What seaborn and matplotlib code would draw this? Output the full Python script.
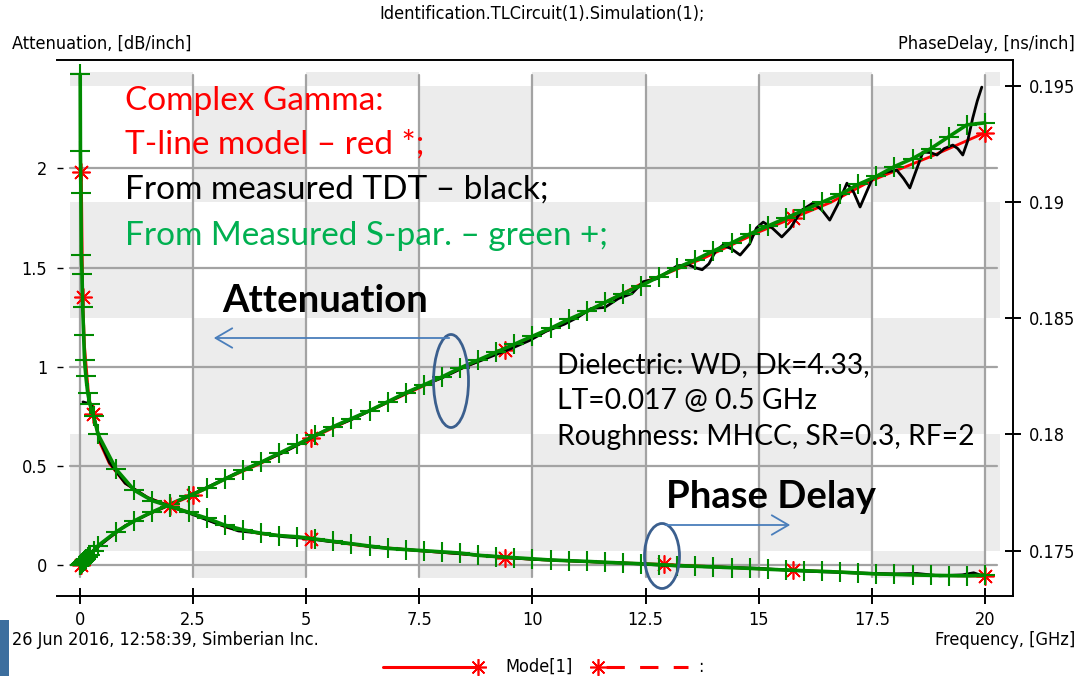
import numpy as np
import pandas as pd
import matplotlib
matplotlib.use("Agg")
import matplotlib.pyplot as plt
import seaborn as sns
from matplotlib.patches import Rectangle, Ellipse, FancyArrowPatch
from matplotlib.lines import Line2D
from matplotlib.transforms import blended_transform_factory

# ---------------- data ----------------
# T-line model (red *)
f_model = [0.03, 0.06, 0.1, 0.2, 0.29, 0.45, 0.65, 1.0, 1.5, 2.0, 2.5, 3.25, 4.0, 5.1,
           6.2, 7.5, 8.4, 9.4, 10.2, 11.3, 12.5, 12.9, 13.8, 15.0, 15.75, 16.6, 17.5,
           18.8, 20.0]
att_model = [0.004, 0.012, 0.022, 0.05, 0.075, 0.105, 0.14, 0.2, 0.258, 0.305, 0.355,
             0.44, 0.515, 0.64, 0.758, 0.895, 0.99, 1.088, 1.17, 1.29, 1.43, 1.465,
             1.55, 1.68, 1.75, 1.83, 1.94, 2.06, 2.18]
pd_model = [0.1913, 0.1859, 0.1838, 0.1815, 0.1809, 0.1796, 0.17875, 0.1779, 0.17728,
            0.17692, 0.17659, 0.1760, 0.17573, 0.17552, 0.17522, 0.17500, 0.17487,
            0.17470, 0.17461, 0.17452, 0.17444, 0.17441, 0.17433, 0.17422, 0.17416,
            0.17410, 0.17401, 0.17394, 0.17390]
att_star_idx = [0, 10, 13, 17, 24, 28]
pd_star_idx = [0, 1, 4, 9, 13, 17, 21, 24, 28]

# From measured S-parameters (green +)
f_spar = [0.005, 0.01, 0.02, 0.03, 0.045, 0.06, 0.08, 0.1, 0.13, 0.17, 0.22, 0.3,
          0.4, 0.8, 1.2, 1.6, 2.0, 2.4, 2.8, 3.2, 3.6, 4.0, 4.4, 4.8, 5.2, 5.6, 6.0,
          6.4, 6.8, 7.2, 7.6, 8.0, 8.4, 8.8, 9.2, 9.6, 10.0, 10.4, 10.8, 11.2, 11.6,
          12.0, 12.4, 12.8, 13.2, 13.6, 14.0, 14.4, 14.8, 15.2, 15.6, 16.0, 16.4,
          16.8, 17.2, 17.6, 18.0, 18.4, 18.8, 19.2, 19.6, 20.0]
att_spar = [0.0, 0.003, 0.006, 0.009, 0.013, 0.017, 0.022, 0.027, 0.034, 0.043, 0.055,
            0.075, 0.10, 0.17, 0.225, 0.27, 0.31, 0.35, 0.39, 0.435, 0.48, 0.52, 0.565,
            0.61, 0.655, 0.70, 0.74, 0.78, 0.825, 0.87, 0.91, 0.95, 0.995, 1.035,
            1.075, 1.115, 1.155, 1.195, 1.24, 1.28, 1.325, 1.37, 1.41, 1.455, 1.50,
            1.54, 1.585, 1.625, 1.67, 1.71, 1.75, 1.79, 1.83, 1.87, 1.92, 1.96, 2.01,
            2.05, 2.10, 2.16, 2.22, 2.23]
pd_spar = [0.1955, 0.1922, 0.1904, 0.1877, 0.1869, 0.1855, 0.1843, 0.1832, 0.1825,
           0.1818, 0.1813, 0.1808, 0.1800, 0.1785, 0.1776, 0.17715, 0.1769, 0.17665,
           0.1764, 0.1761, 0.1759, 0.17575, 0.17565, 0.1756, 0.1755, 0.1754, 0.1753,
           0.1752, 0.1751, 0.17505, 0.1750, 0.17495, 0.1749, 0.1748, 0.17475, 0.1747,
           0.17465, 0.1746, 0.17457, 0.17454, 0.1745, 0.17447, 0.17444, 0.1744,
           0.17436, 0.17433, 0.1743, 0.17427, 0.17424, 0.1742, 0.17417, 0.17414,
           0.17411, 0.17408, 0.17404, 0.1740, 0.17398, 0.17396, 0.17394, 0.17393,
           0.17392, 0.17395]

# From measured TDT (black)
f_tdt_att = [0.0, 0.3, 0.65, 1.0, 1.5, 2.0, 2.5, 3.0, 3.5, 4.0, 4.5, 5.0, 5.5, 6.0,
             6.5, 7.0, 7.5, 8.0, 8.5, 9.0, 9.5, 9.95, 10.3, 10.7, 11.0, 11.3, 11.6,
             11.9, 12.2, 12.45, 12.75, 13.0, 13.2, 13.45, 13.6, 13.75, 13.9, 14.05,
             14.21, 14.4, 14.59, 14.8, 14.95, 15.1, 15.3, 15.51, 15.7, 15.95, 16.2,
             16.4, 16.57, 16.75, 16.95, 17.1, 17.24, 17.38, 17.52, 17.8, 18.05, 18.2,
             18.34, 18.48, 18.63, 18.8, 18.94, 19.1, 19.29, 19.4, 19.51, 19.62, 19.73,
             19.83, 19.93]
att_tdt = [0.0, 0.075, 0.14, 0.2, 0.258, 0.308, 0.36, 0.415, 0.47, 0.52, 0.57, 0.63,
           0.69, 0.735, 0.79, 0.845, 0.9, 0.945, 1.0, 1.045, 1.09, 1.135, 1.18, 1.215,
           1.25, 1.295, 1.30, 1.345, 1.37, 1.43, 1.445, 1.48, 1.51, 1.515, 1.50, 1.49,
           1.52, 1.585, 1.614, 1.595, 1.564, 1.62, 1.70, 1.73, 1.70, 1.655, 1.70, 1.79,
           1.826, 1.79, 1.74, 1.82, 1.926, 1.88, 1.806, 1.88, 1.953, 1.98, 1.992,
           1.95, 1.902, 1.99, 2.083, 2.08, 2.068, 2.10, 2.118, 2.10, 2.068, 2.14,
           2.254, 2.34, 2.41]
f_tdt_pd = [0.066, 0.25, 0.3, 0.45, 0.65, 1.0, 1.5, 2.0, 2.5, 3.0, 3.5, 4.0, 4.5, 5.0,
            5.5, 6.0, 6.5, 7.0, 7.5, 8.0, 8.5, 9.0, 9.5, 10.0, 11.0, 12.0, 13.0, 14.0,
            15.0, 16.0, 17.0, 18.0, 18.5, 19.0, 19.5, 19.75, 19.9]
pd_tdt = [0.1814, 0.1813, 0.1808, 0.1797, 0.1788, 0.1779, 0.17728, 0.1769, 0.17655,
          0.17618, 0.17585, 0.17575, 0.1756, 0.17553, 0.1754, 0.1753, 0.17515, 0.17508,
          0.175, 0.17493, 0.17485, 0.17478, 0.1747, 0.17463, 0.17455, 0.17447, 0.17436,
          0.17430, 0.17424, 0.17412, 0.17405, 0.174, 0.17402, 0.17392, 0.17396,
          0.17405, 0.17395]

x_ticks = [0, 2.5, 5, 7.5, 10, 12.5, 15, 17.5, 20]
x_tick_labels = ["0", "2.5", "5", "7.5", "10", "12.5", "15", "17.5", "20"]
att_ticks = [0, 0.5, 1, 1.5, 2]
att_tick_labels = ["0", "0.5", "1", "1.5", "2"]
pd_ticks = [0.175, 0.18, 0.185, 0.19, 0.195]
pd_tick_labels = ["0.175", "0.18", "0.185", "0.19", "0.195"]

# ---------------- style ----------------
sns.set_theme(style="white")
plt.rcParams["font.family"] = ["DejaVu Sans"]
plt.rcParams["font.stretch"] = "condensed"
CAL = ["Lato", "DejaVu Sans"]
SMALL = 13

W, H = 1081, 678
fig = plt.figure(figsize=(W / 100, H / 100), dpi=100)
fig.patch.set_facecolor("white")


def fx(px):
    return px / W


def fy(py):
    return 1 - py / H


L, R, T, B = 57, 1013, 60, 596
ax = fig.add_axes([fx(L), fy(B), fx(R) - fx(L), fy(T) - fy(B)])
ax2 = ax.twinx()
ax.set_facecolor("white")

ax.set_xlim(-0.508, 20.62)
ax.set_ylim(-0.1537, 2.5466)
ax2.set_ylim(0.173051, 0.19611)

# checkered background (decoration)
col_edges = [-0.22, 2.5, 5, 7.5, 10, 12.5, 15, 17.5, 20, 20.33]
row_edges = [0.19560, 0.195, 0.19, 0.185, 0.18, 0.175, 0.17382]
btr = blended_transform_factory(ax.transData, ax2.transData)
for i in range(len(col_edges) - 1):
    for j in range(len(row_edges) - 1):
        if (i + j) % 2 == 0:
            ax.add_patch(Rectangle((col_edges[i], row_edges[j + 1]),
                                   col_edges[i + 1] - col_edges[i],
                                   row_edges[j] - row_edges[j + 1],
                                   transform=btr, facecolor="#ececec",
                                   edgecolor="none", zorder=0.2))

# grid
gy0, gy1 = (B - 577) / (B - T), (B - 75) / (B - T)
gx0, gx1 = (70 - L) / (R - L), (997 - L) / (R - L)
for xv in x_ticks:
    ax.axvline(xv, ymin=gy0, ymax=gy1, color="#a3a3a3", lw=1.6, zorder=0.5)
for yv in att_ticks:
    ax.axhline(yv, xmin=gx0, xmax=gx1, color="#a3a3a3", lw=1.6, zorder=0.5)

# ---------------- curves ----------------
red = "#ff0000"
green = "#008a00"
star = (8, 2, 0)

# attenuation (left axis)
sns.lineplot(x=f_spar, y=att_spar, ax=ax, color=green, lw=2.6, marker="+",
             markersize=14, markeredgecolor=green, markeredgewidth=1.5,
             legend=False, zorder=3)
sns.lineplot(x=f_model, y=att_model, ax=ax, color=red, lw=2.0, marker=star,
             markersize=13, markevery=att_star_idx, markeredgecolor=red,
             markeredgewidth=1.2, legend=False, zorder=2)
sns.lineplot(x=f_tdt_att, y=att_tdt, ax=ax, color="black", lw=2.0, legend=False,
             zorder=2.5)

# phase delay (right axis)
sns.lineplot(x=f_spar, y=pd_spar, ax=ax2, color=green, lw=2.6, marker="+",
             markersize=14, markeredgecolor=green, markeredgewidth=1.5,
             legend=False, zorder=3)
sns.lineplot(x=f_model, y=pd_model, ax=ax2, color=red, lw=2.0, marker=star,
             markersize=13, markevery=pd_star_idx, markeredgecolor=red,
             markeredgewidth=1.2, legend=False, zorder=2)
sns.lineplot(x=f_tdt_pd, y=pd_tdt, ax=ax2, color="black", lw=2.0, legend=False,
             zorder=2.5)

ax.set_xlabel("")
ax.set_ylabel("")
ax2.set_ylabel("")

# ---------------- axes, ticks ----------------
for s in ["left", "right"]:
    ax.spines[s].set_visible(False)
for s in ["top", "bottom"]:
    ax.spines[s].set_color("black")
    ax.spines[s].set_linewidth(1.4)
for s in ["left", "top", "bottom"]:
    ax2.spines[s].set_visible(False)
ax2.spines["right"].set_color("black")
ax2.spines["right"].set_linewidth(1.4)

ax.set_xticks(x_ticks)
ax.set_xticklabels(x_tick_labels)
ax.set_yticks(att_ticks)
ax.set_yticklabels(att_tick_labels)
ax2.set_yticks(pd_ticks)
ax2.set_yticklabels(pd_tick_labels)

ax.tick_params(axis="x", which="both", bottom=True, top=False, direction="inout",
               length=12, width=1.4, color="black", labelsize=SMALL, pad=5,
               labelcolor="black")
ax.tick_params(axis="y", which="both", left=True, right=False, direction="in",
               length=4.5, width=1.0, color="black", labelsize=SMALL, pad=7,
               labelcolor="black")
ax2.tick_params(axis="y", which="both", right=True, left=False, direction="inout",
                length=11, width=1.4, color="black", labelsize=SMALL, pad=6,
                labelcolor="black")
ax.grid(False)
ax2.grid(False)

# ---------------- annotations ----------------
fig.text(fx(542), fy(14), "Identification.TLCircuit(1).Simulation(1);", ha="center",
         va="center", fontsize=SMALL, color="black")
fig.text(fx(12), fy(44), "Attenuation, [dB/inch]", ha="left", va="center",
         fontsize=SMALL, color="black")
fig.text(fx(1075), fy(44), "PhaseDelay, [ns/inch]", ha="right", va="center",
         fontsize=SMALL, color="black")
fig.text(fx(12), fy(640), "26 Jun 2016, 12:58:39, Simberian Inc.", ha="left",
         va="center", fontsize=SMALL, color="black")
fig.text(fx(1075), fy(640), "Frequency, [GHz]", ha="right", va="center",
         fontsize=SMALL, color="black")

cg_lines = [("Complex Gamma:", "#ff0000", 101), ("T-line model \u2013 red *;", "#ff0000", 145),
            ("From measured TDT \u2013 black;", "black", 190),
            ("From Measured S-par. \u2013 green +;", "#00b050", 236)]
for txt, col, yy in cg_lines:
    fig.text(fx(125), fy(yy), txt, ha="left", va="center", fontsize=24, color=col,
             family=CAL, stretch="normal")

fig.text(fx(222), fy(301), "Attenuation", ha="left", va="center", fontsize=27.5,
         fontweight="bold", color="black", family=CAL, stretch="normal")
fig.text(fx(666), fy(497), "Phase Delay", ha="left", va="center", fontsize=27.5,
         fontweight="bold", color="black", family=CAL, stretch="normal")
for txt, yy in [("Dielectric: WD, Dk=4.33,", 365), ("LT=0.017 @ 0.5 GHz", 401),
                ("Roughness: MHCC, SR=0.3, RF=2", 437)]:
    fig.text(fx(557), fy(yy), txt, ha="left", va="center", fontsize=20.3,
             color="black", family=CAL, stretch="normal")

# arrows and ellipses
blue = "#4a7ebb"
ell_col = "#3b5f8e"
fig.add_artist(Ellipse((fx(451), fy(381)), fx(35), 93 / H, transform=fig.transFigure,
                       facecolor="none", edgecolor=ell_col, lw=2))
fig.add_artist(FancyArrowPatch((fx(452), fy(338)), (fx(211), fy(338)),
                               transform=fig.transFigure,
                               arrowstyle="->,head_length=12,head_width=7",
                               mutation_scale=1, color=blue, lw=1.3))
fig.add_artist(Ellipse((fx(662), fy(556)), fx(35), 65 / H, transform=fig.transFigure,
                       facecolor="none", edgecolor=ell_col, lw=2))
fig.add_artist(FancyArrowPatch((fx(663), fy(525)), (fx(793), fy(525)),
                               transform=fig.transFigure,
                               arrowstyle="->,head_length=12,head_width=7",
                               mutation_scale=1, color=blue, lw=1.3))

# bottom legend
ly = fy(667)
fig.add_artist(Line2D([fx(383), fx(478)], [ly, ly], transform=fig.transFigure,
                      color=red, lw=2.2))
fig.add_artist(Line2D([fx(478)], [ly], transform=fig.transFigure, color=red,
                      marker=star, markersize=12, markeredgewidth=1.2, lw=0))
fig.text(fx(505), ly, "Mode[1]", ha="left", va="center", fontsize=SMALL, color="black")
fig.add_artist(Line2D([fx(598)], [ly], transform=fig.transFigure, color=red,
                      marker=star, markersize=12, markeredgewidth=1.2, lw=0))
fig.add_artist(Line2D([fx(606), fx(688)], [ly, ly], transform=fig.transFigure,
                      color=red, lw=2.2, dashes=(6, 5)))
fig.text(fx(698), ly, ":", ha="left", va="center", fontsize=SMALL, color="black")

# small icon fragment at bottom-left
fig.add_artist(Rectangle((0, fy(676)), fx(9), 56 / H, transform=fig.transFigure,
                         facecolor="#3c6e9e", edgecolor="none"))

fig.savefig("out.png", dpi=100)
